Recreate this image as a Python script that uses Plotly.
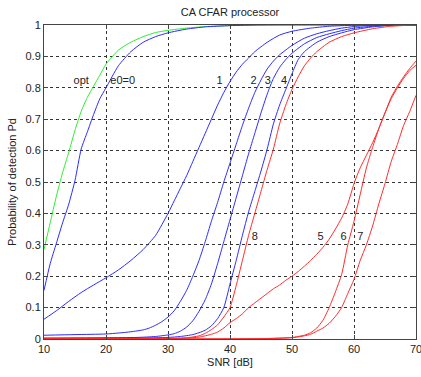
import plotly.graph_objects as go

# ---- data ----
opt_x = [10, 11, 12, 13, 14, 15, 16, 17, 18, 19, 20, 22, 24, 26, 28, 30, 33, 36, 40, 45, 70]
opt_y = [0.285, 0.37, 0.455, 0.53, 0.595, 0.665, 0.725, 0.77, 0.805, 0.84, 0.875, 0.92, 0.945,
         0.963, 0.976, 0.983, 0.99, 0.995, 0.998, 1.0, 1.0]

e0_x = [10, 11, 12, 13, 14, 15, 16, 17, 18, 19, 20, 22, 24, 26, 28, 30, 33, 36, 40, 45, 70]
e0_y = [0.155, 0.24, 0.305, 0.37, 0.43, 0.505, 0.605, 0.66, 0.715, 0.765, 0.8, 0.87, 0.915,
        0.945, 0.963, 0.975, 0.987, 0.994, 0.998, 1.0, 1.0]

c1_x = [10, 12, 14, 16, 18, 20, 22, 24, 26, 28, 30, 31, 32, 33, 34, 35, 36, 37, 38, 39, 40,
        41, 42, 43, 44, 46, 48, 50, 53, 56, 60, 70]
c1_y = [0.063, 0.09, 0.12, 0.148, 0.172, 0.195, 0.22, 0.25, 0.285, 0.33, 0.4, 0.44, 0.48, 0.52,
        0.565, 0.61, 0.655, 0.7, 0.745, 0.785, 0.82, 0.85, 0.875, 0.895, 0.915, 0.945, 0.968,
        0.98, 0.99, 0.996, 0.999, 1.0]

c2_x = [10, 15, 20, 22, 24, 26, 27, 28, 29, 30, 31, 32, 33, 34, 35, 36, 37, 38, 39, 40, 41, 42,
        43, 44, 45, 46, 47, 48, 50, 52, 54, 56, 58, 60, 63, 70]
c2_y = [0.012, 0.014, 0.016, 0.019, 0.023, 0.029, 0.035, 0.044, 0.055, 0.07, 0.09, 0.12, 0.155,
        0.2, 0.25, 0.31, 0.375, 0.435, 0.5, 0.56, 0.62, 0.68, 0.735, 0.785, 0.825, 0.86, 0.885,
        0.905, 0.935, 0.958, 0.972, 0.982, 0.99, 0.995, 0.999, 1.0]

c3_x = [10, 20, 25, 28, 30, 31, 32, 33, 34, 35, 36, 37, 38, 39, 40, 41, 42, 43, 44, 45, 46, 47,
        48, 49, 50, 52, 54, 56, 58, 60, 63, 66, 70]
c3_y = [0.003, 0.004, 0.005, 0.008, 0.013, 0.017, 0.025, 0.038, 0.058, 0.088, 0.125, 0.175, 0.24,
        0.31, 0.38, 0.45, 0.52, 0.59, 0.655, 0.72, 0.78, 0.83, 0.865, 0.89, 0.91, 0.94, 0.96,
        0.972, 0.982, 0.99, 0.996, 0.999, 1.0]

c4_x = [10, 25, 30, 32, 34, 35, 36, 37, 38, 39, 40, 41, 42, 43, 44, 45, 46, 47, 48, 49, 50, 51,
        52, 54, 56, 58, 60, 63, 66, 70]
c4_y = [0.002, 0.003, 0.005, 0.008, 0.014, 0.02, 0.028, 0.042, 0.065, 0.1, 0.175, 0.25, 0.33,
        0.405, 0.47, 0.535, 0.605, 0.685, 0.745, 0.795, 0.845, 0.89, 0.915, 0.945, 0.963, 0.975,
        0.985, 0.994, 0.999, 1.0]

c8_x = [10, 30, 33, 35, 36, 37, 38, 39, 40, 41, 42, 43, 44, 45, 46, 47, 48, 49, 50, 51, 52, 53,
        54, 56, 58, 60, 63, 66, 70]
c8_y = [0.001, 0.002, 0.004, 0.01, 0.018, 0.03, 0.045, 0.07, 0.1, 0.17, 0.25, 0.33, 0.4, 0.47,
        0.54, 0.605, 0.685, 0.745, 0.795, 0.835, 0.87, 0.895, 0.915, 0.945, 0.963, 0.975, 0.988,
        0.996, 1.0]

c5_x = [10, 30, 33, 35, 37, 38, 39, 40, 41, 42, 43, 44, 45, 46, 47, 48, 49, 50, 51, 52, 53, 54,
        55, 56, 57, 58, 59, 60, 61, 62, 63, 64, 65, 66, 67, 68, 69, 70]
c5_y = [0.0, 0.001, 0.003, 0.006, 0.015, 0.022, 0.035, 0.052, 0.065, 0.08, 0.1, 0.115, 0.13,
        0.145, 0.16, 0.172, 0.187, 0.2, 0.215, 0.232, 0.25, 0.27, 0.292, 0.318, 0.35, 0.385,
        0.43, 0.495, 0.545, 0.585, 0.625, 0.67, 0.72, 0.77, 0.805, 0.835, 0.862, 0.885]

c6_x = [10, 45, 48, 50, 52, 53, 54, 55, 56, 57, 58, 59, 60, 61, 62, 63, 64, 65, 66, 67, 68, 69, 70]
c6_y = [0.0, 0.001, 0.003, 0.005, 0.012, 0.02, 0.035, 0.06, 0.1, 0.15, 0.205, 0.3, 0.375, 0.46,
        0.545, 0.61, 0.67, 0.72, 0.765, 0.8, 0.83, 0.855, 0.872]

c7_x = [10, 45, 50, 52, 53, 54, 55, 56, 57, 58, 59, 60, 61, 62, 63, 64, 65, 66, 67, 68, 69, 70]
c7_y = [0.0, 0.001, 0.004, 0.01, 0.015, 0.025, 0.035, 0.05, 0.072, 0.1, 0.145, 0.19, 0.25, 0.3,
        0.36, 0.43, 0.495, 0.565, 0.62, 0.68, 0.725, 0.776]

label_text = ["opt", "e0=0", "1", "2", "3", "4", "8", "5", "6", "7"]
label_x = [16.0, 22.7, 38.3, 43.8, 46.1, 48.7, 44.0, 54.6, 58.3, 61.0]
label_y = [0.822, 0.822, 0.822, 0.822, 0.822, 0.822, 0.324, 0.324, 0.324, 0.324]

x_ticks = [10, 20, 30, 40, 50, 60, 70]
y_ticks = [0, 0.1, 0.2, 0.3, 0.4, 0.5, 0.6, 0.7, 0.8, 0.9, 1]

GREEN = "#2cf02c"
BLUE = "#2b2bff"
RED = "#ff2a2a"

series = [
    (opt_x, opt_y, GREEN),
    (e0_x, e0_y, BLUE),
    (c1_x, c1_y, BLUE),
    (c2_x, c2_y, BLUE),
    (c3_x, c3_y, BLUE),
    (c4_x, c4_y, BLUE),
    (c8_x, c8_y, RED),
    (c5_x, c5_y, RED),
    (c6_x, c6_y, RED),
    (c7_x, c7_y, RED),
]

fig = go.Figure()
for xs, ys, col in series:
    fig.add_trace(go.Scatter(x=xs, y=ys, mode="lines",
                             line=dict(color=col, width=1, shape="spline", smoothing=0.6),
                             showlegend=False, hoverinfo="skip"))

fig.add_trace(go.Scatter(x=label_x, y=label_y, mode="text", text=label_text,
                         textfont=dict(size=11, color="#222222",
                                       family="Liberation Sans, Arial, sans-serif"),
                         textposition="middle center", showlegend=False, hoverinfo="skip"))

FONT = dict(family="Liberation Sans, Arial, sans-serif", size=11, color="#222222")

fig.update_layout(
    width=421, height=377,
    margin=dict(l=44, r=5, t=25, b=38),
    paper_bgcolor="white", plot_bgcolor="white",
    font=FONT,
    title=dict(text="CA CFAR processor", x=0.5, xref="paper", xanchor="center",
               y=1 - 12 / 377, yref="container", yanchor="middle",
               font=dict(family="Liberation Sans, Arial, sans-serif", size=11, color="#222222")),
    xaxis=dict(range=[10, 70], tickvals=x_ticks, ticktext=[str(v) for v in x_ticks],
               ticklabeloverflow="allow", automargin=False,
               showgrid=True, gridcolor="#333333", griddash="3px,3px", gridwidth=1,
               showline=True, linecolor="#444444", linewidth=1, mirror="ticks",
               ticks="inside", ticklen=4, tickcolor="#444444", zeroline=False,
               title=dict(text="SNR [dB]", standoff=4, font=FONT)),
    yaxis=dict(range=[0, 1], tickvals=y_ticks, ticktext=[("%g" % v) for v in y_ticks],
               ticklabeloverflow="allow", automargin=False,
               showgrid=True, gridcolor="#333333", griddash="3px,3px", gridwidth=1,
               showline=True, linecolor="#444444", linewidth=1, mirror="ticks",
               ticks="inside", ticklen=4, tickcolor="#444444", zeroline=False,
               title=dict(text="Probability of detection Pd", standoff=6, font=FONT)),
)

fig.write_html("out.html")
